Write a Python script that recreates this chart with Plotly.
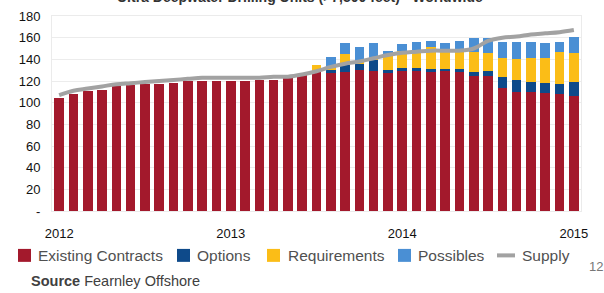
import plotly.graph_objects as go

months = ["Jan 2012", "Feb 2012", "Mar 2012", "Apr 2012", "May 2012", "Jun 2012",
          "Jul 2012", "Aug 2012", "Sep 2012", "Oct 2012", "Nov 2012", "Dec 2012",
          "Jan 2013", "Feb 2013", "Mar 2013", "Apr 2013", "May 2013", "Jun 2013",
          "Jul 2013", "Aug 2013", "Sep 2013", "Oct 2013", "Nov 2013", "Dec 2013",
          "Jan 2014", "Feb 2014", "Mar 2014", "Apr 2014", "May 2014", "Jun 2014",
          "Jul 2014", "Aug 2014", "Sep 2014", "Oct 2014", "Nov 2014", "Dec 2014",
          "Jan 2015"]

existing = [104, 108, 111, 112, 115, 116, 117, 117, 118, 120, 120, 120,
            120, 120, 121, 121, 123, 126, 128, 127, 128, 130, 129, 127,
            129, 129, 128, 129, 128, 125, 125, 114, 110, 110, 109, 108, 106]
options = [0, 0, 0, 0, 0, 0, 0, 0, 0, 0, 0, 0,
           0, 0, 0, 0, 0, 0, 0, 4, 7, 6, 10, 3,
           3, 3, 3, 2, 3, 3, 4, 10, 11, 9, 9, 9, 13]
requirements = [0, 0, 0, 0, 0, 0, 0, 0, 0, 0, 0, 0,
                0, 0, 0, 0, 0, 0, 7, 1, 10, 2, 2, 14,
                16, 16, 20, 17, 17, 19, 17, 17, 19, 22, 23, 30, 27]
possibles = [0, 0, 0, 0, 0, 0, 0, 0, 0, 0, 0, 0,
             0, 0, 0, 0, 0, 0, 0, 10, 10, 13, 14, 4,
             6, 8, 6, 7, 9, 13, 14, 15, 16, 15, 14, 9, 15]
supply = [107, 111, 113, 115, 117, 118, 119, 120, 121, 122, 123, 123,
          123, 123, 123, 124, 124, 126, 129, 133, 136, 138, 141, 144,
          146, 147, 148, 148, 148, 150, 157, 160, 161, 163, 164, 165, 167]

year_ticks = ["Jan 2012", "Jan 2013", "Jan 2014", "Jan 2015"]
year_labels = ["2012", "2013", "2014", "2015"]
y_ticks = [0, 20, 40, 60, 80, 100, 120, 140, 160, 180]
y_labels = ["-", "20", "40", "60", "80", "100", "120", "140", "160", "180"]

series_names = ["Existing Contracts", "Options", "Requirements", "Possibles", "Supply"]
series_colors = ["#a3192c", "#0e4a8a", "#fbbd17", "#4a8fd4", "#a2a2a2"]

FONT = "Liberation Sans, Arial, sans-serif"

L, R, T, B = 52, 23, 16, 81.5
W, H = 604, 293
pw, ph = W - L - R, H - T - B


def px(x):
    return (x - L) / pw


def py(y):
    return (H - B - y) / ph


fig = go.Figure()
for name, vals, col in zip(series_names[:4], [existing, options, requirements, possibles],
                           series_colors[:4]):
    fig.add_trace(go.Bar(x=months, y=vals, name=name,
                         marker=dict(color=col, line=dict(width=0))))
fig.add_trace(go.Scatter(x=months, y=supply, name=series_names[4], mode="lines",
                         line=dict(color=series_colors[4], width=4, shape="spline")))

# manual legend (positions in pixels), drawn to match the reference layout
legend_sym_x = [18, 177, 267, 398, 497]
legend_txt_x = [36, 195, 286, 416, 520]
ly = 256
shapes = []
annotations = []
for i, (name, col) in enumerate(zip(series_names, series_colors)):
    x0 = legend_sym_x[i]
    if name == "Supply":
        shapes.append(dict(type="line", xref="paper", yref="paper",
                           x0=px(x0), x1=px(x0 + 18), y0=py(ly), y1=py(ly),
                           line=dict(color=col, width=4)))
    else:
        shapes.append(dict(type="rect", xref="paper", yref="paper",
                           x0=px(x0), x1=px(x0 + 13), y0=py(ly - 6.5), y1=py(ly + 6.5),
                           fillcolor=col, line=dict(width=0)))
    annotations.append(dict(text=name, xref="paper", yref="paper",
                            x=px(legend_txt_x[i]), y=py(ly), xanchor="left",
                            yanchor="middle", showarrow=False,
                            font=dict(size=15.5, color="#505050")))

annotations += [
    dict(text="<b>Ultra Deepwater Drilling Units (>7,500 feet) - Worldwide</b>",
         xref="paper", yref="paper", x=px(300), y=py(-3), xanchor="center",
         yanchor="middle", showarrow=False, font=dict(size=14, color="#333")),
    dict(text="12", xref="paper", yref="paper", x=px(596), y=py(267),
         xanchor="center", yanchor="middle", showarrow=False,
         font=dict(size=13, color="#777")),
    dict(text="<b>Source</b> Fearnley Offshore", xref="paper", yref="paper",
         x=px(29), y=py(282), xanchor="left", yanchor="middle", showarrow=False,
         font=dict(size=14.5, color="#404040")),
]

fig.update_layout(
    width=W, height=H,
    margin=dict(l=L, r=R, t=T, b=B, autoexpand=False),
    paper_bgcolor="white", plot_bgcolor="white",
    barmode="stack", bargap=0.33,
    font=dict(family=FONT, size=13, color="#222"),
    showlegend=False,
    xaxis=dict(type="category", range=[-0.5, 36.5], tickmode="array",
               tickvals=year_ticks, ticktext=year_labels, showgrid=False,
               ticks="", ticklabelstandoff=10, tickfont=dict(size=13, color="#111"),
               showline=True, linecolor="#ebebeb", linewidth=1, mirror=True,
               zeroline=False),
    yaxis=dict(range=[0, 180], tickmode="array", tickvals=y_ticks, ticktext=y_labels,
               showgrid=True, gridcolor="#ececec", gridwidth=1, ticks="",
               ticklabelstandoff=8, tickfont=dict(size=13, color="#111"),
               showline=True, linecolor="#ebebeb", linewidth=1, mirror=True,
               zeroline=False),
    shapes=shapes,
    annotations=annotations,
)

fig.write_html("out.html",
               config={"displayModeBar": False},
               post_script="document.body.style.margin='0';"
                           "document.body.style.padding='0';"
                           "document.body.style.overflow='hidden';")
